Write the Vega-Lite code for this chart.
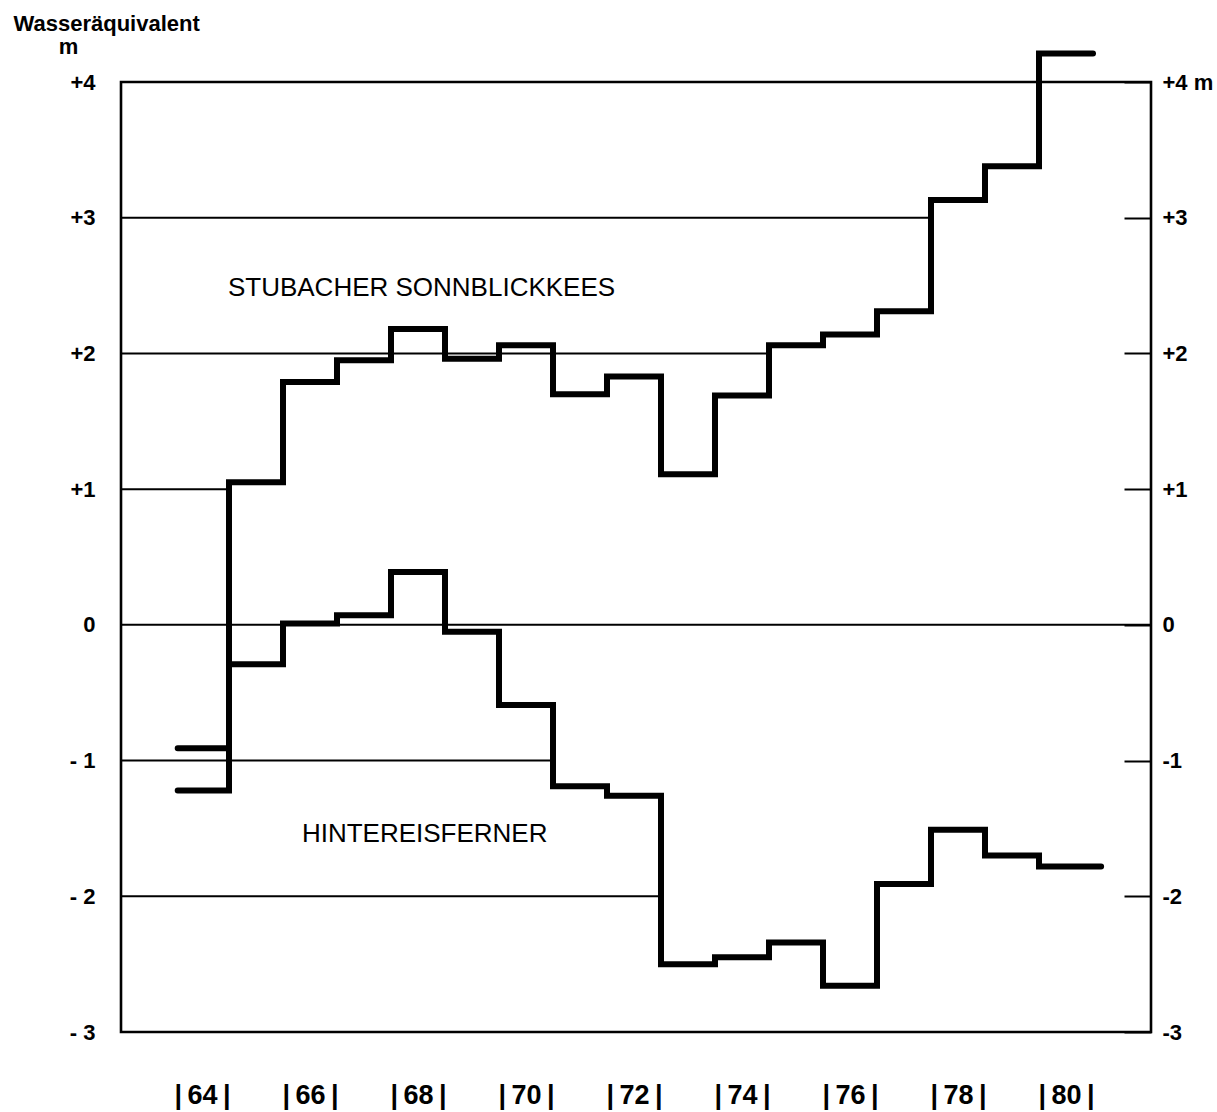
{
  "$schema": "https://vega.github.io/schema/vega-lite/v6.json",
  "width": 1030,
  "height": 950,
  "autosize": "none",
  "padding": {"left": 121, "top": 82, "right": 66, "bottom": 80},
  "background": "white",
  "config": {
    "view": {"stroke": "black", "strokeWidth": 2.6},
    "font": "Liberation Sans",
    "axis": {"labelColor": "black", "titleColor": "black", "labelFont": "Liberation Sans", "titleFont": "Liberation Sans"}
  },
  "datasets": {
    "steps": [
      {"series": "Stubacher Sonnblickkees", "t": 63.55, "v": -0.91},
      {"series": "Stubacher Sonnblickkees", "t": 64.5, "v": 1.05},
      {"series": "Stubacher Sonnblickkees", "t": 65.5, "v": 1.79},
      {"series": "Stubacher Sonnblickkees", "t": 66.5, "v": 1.95},
      {"series": "Stubacher Sonnblickkees", "t": 67.5, "v": 2.18},
      {"series": "Stubacher Sonnblickkees", "t": 68.5, "v": 1.96},
      {"series": "Stubacher Sonnblickkees", "t": 69.5, "v": 2.06},
      {"series": "Stubacher Sonnblickkees", "t": 70.5, "v": 1.70},
      {"series": "Stubacher Sonnblickkees", "t": 71.5, "v": 1.83},
      {"series": "Stubacher Sonnblickkees", "t": 72.5, "v": 1.11},
      {"series": "Stubacher Sonnblickkees", "t": 73.5, "v": 1.69},
      {"series": "Stubacher Sonnblickkees", "t": 74.5, "v": 2.06},
      {"series": "Stubacher Sonnblickkees", "t": 75.5, "v": 2.14},
      {"series": "Stubacher Sonnblickkees", "t": 76.5, "v": 2.31},
      {"series": "Stubacher Sonnblickkees", "t": 77.5, "v": 3.13},
      {"series": "Stubacher Sonnblickkees", "t": 78.5, "v": 3.38},
      {"series": "Stubacher Sonnblickkees", "t": 79.5, "v": 4.21},
      {"series": "Stubacher Sonnblickkees", "t": 80.5, "v": 4.21},
      {"series": "Hintereisferner", "t": 63.55, "v": -1.22},
      {"series": "Hintereisferner", "t": 64.5, "v": -0.29},
      {"series": "Hintereisferner", "t": 65.5, "v": 0.01},
      {"series": "Hintereisferner", "t": 66.5, "v": 0.07},
      {"series": "Hintereisferner", "t": 67.5, "v": 0.39},
      {"series": "Hintereisferner", "t": 68.5, "v": -0.05},
      {"series": "Hintereisferner", "t": 69.5, "v": -0.59},
      {"series": "Hintereisferner", "t": 70.5, "v": -1.19},
      {"series": "Hintereisferner", "t": 71.5, "v": -1.26},
      {"series": "Hintereisferner", "t": 72.5, "v": -2.50},
      {"series": "Hintereisferner", "t": 73.5, "v": -2.45},
      {"series": "Hintereisferner", "t": 74.5, "v": -2.34},
      {"series": "Hintereisferner", "t": 75.5, "v": -2.66},
      {"series": "Hintereisferner", "t": 76.5, "v": -1.91},
      {"series": "Hintereisferner", "t": 77.5, "v": -1.51},
      {"series": "Hintereisferner", "t": 78.5, "v": -1.70},
      {"series": "Hintereisferner", "t": 79.5, "v": -1.78},
      {"series": "Hintereisferner", "t": 80.65, "v": -1.78}
    ],
    "grid": [
      {"v": 3, "start": 62.5, "end": 77.5},
      {"v": 2, "start": 62.5, "end": 74.5},
      {"v": 1, "start": 62.5, "end": 64.5},
      {"v": 0, "start": 62.5, "end": 81.574},
      {"v": -1, "start": 62.5, "end": 70.5},
      {"v": -2, "start": 62.5, "end": 72.5}
    ],
    "labels": [
      {"name": "STUBACHER SONNBLICKKEES", "t": 64.48, "v": 2.48},
      {"name": "HINTEREISFERNER", "t": 65.85, "v": -1.54}
    ]
  },
  "layer": [
    {
      "data": {"name": "grid"},
      "mark": {"type": "rule", "color": "black", "strokeWidth": 2},
      "encoding": {
        "x": {
          "field": "start", "type": "quantitative",
          "scale": {"domain": [62.5, 81.574], "nice": false, "zero": false},
          "axis": {
            "orient": "bottom", "values": [64, 66, 68, 70, 72, 74, 76, 78, 80],
            "ticks": false, "domain": false, "grid": false,
            "labelExpr": "'|\u2009' + datum.value + '\u2009|'",
            "labelFontSize": 27, "labelFontWeight": "bold", "labelPadding": 50,
            "title": null
          }
        },
        "x2": {"field": "end"},
        "y": {
          "field": "v", "type": "quantitative",
          "scale": {"domain": [-3, 4], "nice": false, "zero": false},
          "axis": {
            "orient": "left",
            "values": [-3, -2, -1, 0, 1, 2, 3, 4],
            "ticks": false, "domain": false, "grid": false,
            "labelExpr": "datum.value > 0 ? '+' + datum.value : (datum.value < 0 ? '- ' + abs(datum.value) : '0')",
            "labelFontSize": 22, "labelFontWeight": "bold", "labelPadding": 26,
            "title": "Wasseräquivalent", "titleAngle": 0, "titleAlign": "left", "titleBaseline": "alphabetic",
            "titleX": -108, "titleY": -52, "titleFontSize": 22, "titleFontWeight": "bold"
          }
        }
      }
    },
    {
      "data": {"name": "steps"},
      "mark": {"type": "line", "interpolate": "step-after", "color": "black", "strokeWidth": 6, "strokeCap": "round", "strokeJoin": "miter"},
      "encoding": {
        "x": {"field": "t", "type": "quantitative"},
        "y": {
          "field": "v", "type": "quantitative",
          "axis": {
            "orient": "right",
            "values": [-3, -2, -1, 0, 1, 2, 3, 4],
            "ticks": true, "tickSize": -27, "tickWidth": 2, "tickColor": "black",
            "domain": false, "grid": false,
            "labelExpr": "datum.value == 4 ? '+4 m' : (datum.value > 0 ? '+' + datum.value : (datum.value < 0 ? '-' + abs(datum.value) : '0'))",
            "labelFontSize": 22, "labelFontWeight": "bold", "labelPadding": 38,
            "title": "m", "titleAngle": 0, "titleAlign": "center", "titleBaseline": "alphabetic",
            "titleX": -1083, "titleY": -29, "titleFontSize": 22, "titleFontWeight": "bold"
          }
        },
        "detail": {"field": "series", "type": "nominal"}
      }
    },
    {
      "data": {"name": "labels"},
      "mark": {"type": "text", "align": "left", "baseline": "middle", "fontSize": 26, "color": "black", "font": "Liberation Sans"},
      "encoding": {
        "x": {"field": "t", "type": "quantitative"},
        "y": {"field": "v", "type": "quantitative", "axis": null},
        "text": {"field": "name", "type": "nominal"}
      }
    }
  ],
  "resolve": {"axis": {"y": "independent"}}
}
